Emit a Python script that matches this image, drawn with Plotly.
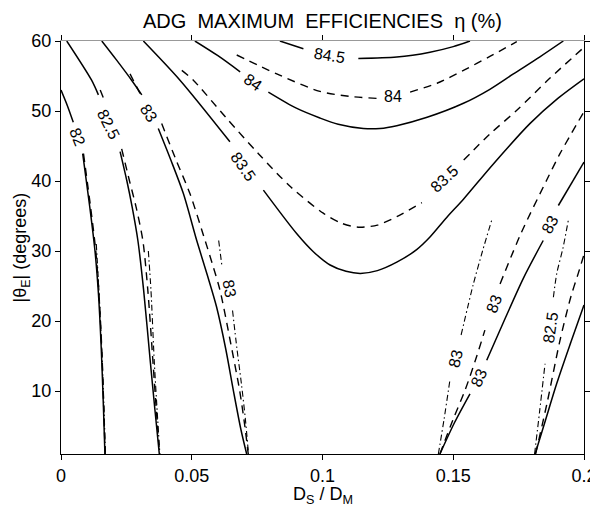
import plotly.graph_objects as go

# ---------------- data ----------------
# solid family
s82_x = [0, 0.0024, 0.0047, None, 0.0083, 0.0110, 0.0130, 0.0143, 0.0154, 0.0162, 0.0168]
s82_y = [53.0, 50.8, 48.4, None, 43.9, 36.3, 30, 24, 16, 8, 1]
s825_x = [0.0022, 0.0117, 0.0143, None, 0.0226, 0.0252, 0.0272, 0.0294, 0.0316, 0.0342, 0.0360, 0.0376]
s825_y = [60, 54.4, 52.3, None, 44.2, 40, 36.3, 31.5, 24.4, 14, 7, 1]
s83_x = [0.0156, 0.0212, 0.0270, 0.0309, None, 0.0372, 0.0420, 0.0468, 0.0519, 0.0560, 0.0595, 0.0630, 0.0659, 0.0688, 0.0710]
s83_y = [60, 57.3, 54.4, 52.3, None, 47.5, 43, 38.2, 31.5, 26.5, 22.0, 16, 10.1, 4.5, 1]
s835_x = [0.0315, 0.0455, 0.0646, None, 0.0774, 0.0901, 0.0965, 0.1029, 0.1090, 0.1145, 0.1210, 0.1284,
          0.1360, 0.1411, 0.1475, 0.1539, 0.1650, 0.1793, 0.1900, 0.2000]
s835_y = [60, 54.4, 45.6, None, 38.7, 32.5, 29.9, 28.0, 27.1, 26.8, 27.2, 28.4,
          30.2, 32.0, 34.8, 37.4, 42.3, 48.2, 51.8, 54.6]
s84_x = [0.0512, 0.0600, 0.0685, None, 0.0793, 0.0900, 0.0990, 0.1060, 0.1156, 0.1220, 0.1284,
         0.1400, 0.1539, 0.1640, 0.1730, 0.1830, 0.1921]
s84_y = [60, 57.9, 55.6, None, 52.7, 50.4, 49.0, 48.1, 47.5, 47.5, 47.9,
         49.1, 51.1, 53.1, 55.3, 57.7, 60]
s845_x = [0.0837, 0.0927, None, 0.1137, 0.1284, 0.1411, 0.1500, 0.1564]
s845_y = [60, 58.9, None, 57.5, 57.7, 58.4, 59.2, 60]
s83r_x = [0.1449, 0.1505, 0.1564, None, 0.1628, 0.1700, 0.1768, 0.1844, None, 0.1902, 0.2000]
s83r_y = [1, 5.5, 9.6, None, 14.4, 20.5, 26.1, 31.5, None, 36.5, 42.7]
s825r_x = [0.1813, 0.1850, 0.1896, 0.1950, 0.2000]
s825r_y = [1, 5.5, 11.1, 17, 22.3]

# dashed family
d82_x = [0.0086, 0.0113, 0.0133, 0.0145, 0.0156, 0.0163, 0.0169]
d82_y = [43.9, 36.3, 30, 24, 16, 8, 1]
d825_x = [0.0150, 0.0163, None, 0.0232, 0.0262, 0.0287, 0.0313, 0.0332, 0.0352, 0.0365, 0.0377]
d825_y = [53.0, 51.8, None, 44.6, 40, 36.3, 31.5, 24.4, 14, 7, 1]
d83_x = [0.0264, 0.0309, None, 0.0385, 0.0440, 0.0493, 0.0551, 0.0580, 0.0608, 0.0648, 0.0683, 0.0703, 0.0716]
d83_y = [55.3, 52.0, None, 48.2, 43, 38.2, 31.5, 28.0, 24.4, 17, 10.1, 5, 1]
d835_x = [0.0462, 0.0506, 0.0630, 0.0755, 0.0880, 0.1003, 0.1070, 0.1137, 0.1210, 0.1284, 0.1380, None,
          0.1540, 0.1640, 0.1743, 0.1870, 0.2000]
d835_y = [55.8, 54.4, 49.1, 43.9, 39.1, 35.4, 34.0, 33.4, 33.7, 34.9, 36.9, None,
          43.0, 46.7, 50.1, 54.7, 59.1]
d84_x = [0.0672, 0.0825, 0.0990, 0.1100, 0.1207, None, 0.1335, 0.1440, 0.1539, 0.1640, 0.1743]
d84_y = [58.0, 55.3, 52.8, 52.1, 51.8, None, 52.7, 54.0, 55.8, 57.8, 59.9]
d83r_x = [0.1449, 0.1500, 0.1545, 0.1590, 0.1621, None, 0.1679, 0.1760, 0.1857, 0.1908, 0.2000]
d83r_y = [1, 6, 10.1, 15, 18.7, None, 25.3, 32.6, 40.1, 43.9, 49.9]
d825r_x = [0.1815, 0.1860, 0.1908, 0.1950, 0.1978, 0.2000]
d825r_y = [1, 8.5, 17.2, 23.5, 26.8, 29.5]

# dash-dot family
dd82_x = [0.0135, 0.0147, 0.0157, 0.0164, 0.0170]
dd82_y = [31.0, 23, 15, 8, 1]
dd825_x = [0.0334, 0.0344, 0.0357, 0.0368, 0.0378]
dd825_y = [30.0, 24.4, 14, 7, 1]
dd83_x = [0.0603, 0.0615, None, 0.0656, 0.0673, 0.0690, 0.0705, 0.0717]
dd83_y = [31.5, 28.0, None, 21.5, 16, 11, 6, 1]
dd83r_x = [0.1443, 0.1465, 0.1487, None, 0.1530, 0.1577, 0.1612, 0.1647]
dd83r_y = [1, 6, 11.5, None, 18, 25.3, 30, 34.4]
dd825r_x = [0.1811, 0.1830, 0.1851, None, 0.1883, 0.1896, 0.1920, 0.1940]
dd825r_y = [1, 7, 13.9, None, 23.4, 26.8, 30.5, 34.4]

# contour labels
label_text = ["82", "82.5", "83", "83.5", "84", "84.5", "84", "83.5", "83", "83", "83", "83", "83", "82.5"]
label_x = [0.0063, 0.0182, 0.0337, 0.0697, 0.0735, 0.1026, 0.1271, 0.1468, 0.0643, 0.1510, 0.1599, 0.1657, 0.1870, 0.1870]
label_y = [46.2, 48.1, 49.7, 42.1, 54.1, 58.0, 52.1, 40.3, 24.6, 14.6, 11.9, 22.5, 33.8, 19.0]
label_angle = [68, 63, 57, 55, 35, 9, 0, -43, 80, -77, -66, -69, -61, -82]

x_ticks = [0, 0.05, 0.1, 0.15, 0.2]
x_ticktext = ["0", "0.05", "0.1", "0.15", "0.2"]
y_ticks = [10, 20, 30, 40, 50, 60]

# ---------------- figure ----------------
FONT = "Liberation Sans, Arial, sans-serif"
fig = go.Figure()

solid = [(s82_x, s82_y), (s825_x, s825_y), (s83_x, s83_y), (s835_x, s835_y), (s84_x, s84_y),
         (s845_x, s845_y), (s83r_x, s83r_y), (s825r_x, s825r_y)]
dashed = [(d82_x, d82_y), (d825_x, d825_y), (d83_x, d83_y), (d835_x, d835_y), (d84_x, d84_y),
          (d83r_x, d83r_y), (d825r_x, d825r_y)]
dashdot = [(dd82_x, dd82_y), (dd825_x, dd825_y), (dd83_x, dd83_y), (dd83r_x, dd83r_y), (dd825r_x, dd825r_y)]

for xs, ys in solid:
    fig.add_trace(go.Scatter(x=xs, y=ys, mode="lines", connectgaps=False,
                             line=dict(color="black", width=1.5, shape="spline", smoothing=0.8),
                             hoverinfo="skip", showlegend=False))
for xs, ys in dashed:
    fig.add_trace(go.Scatter(x=xs, y=ys, mode="lines", connectgaps=False,
                             line=dict(color="black", width=1.4, dash="8px,6px", shape="spline", smoothing=0.8),
                             hoverinfo="skip", showlegend=False))
for xs, ys in dashdot:
    fig.add_trace(go.Scatter(x=xs, y=ys, mode="lines", connectgaps=False,
                             line=dict(color="black", width=1.1, dash="6px,3px,1.5px,3px", shape="spline", smoothing=0.8),
                             hoverinfo="skip", showlegend=False))

# invisible trace for top axis
fig.add_trace(go.Scatter(x=[0, 0.2], y=[1, 1], xaxis="x2", mode="lines",
                         line=dict(width=0), hoverinfo="skip", showlegend=False))

annotations = []
for t, lx, ly, ang in zip(label_text, label_x, label_y, label_angle):
    annotations.append(dict(x=lx, y=ly, xref="x", yref="y", text=t, showarrow=False,
                            textangle=ang, xanchor="center", yanchor="middle",
                            font=dict(family=FONT, size=16, color="black")))

NB = "\u00a0"
title_text = "ADG" + NB * 2 + "MAXIMUM" + NB * 2 + "EFFICIENCIES" + NB * 2 + "\u03b7 (%)"
annotations.append(dict(x=0.5, y=1.0475, xref="paper", yref="paper", showarrow=False,
                        text=title_text, xanchor="center", yanchor="middle",
                        font=dict(family=FONT, size=20, color="black")))
annotations.append(dict(x=0.5, y=-0.1, xref="paper", yref="paper", showarrow=False,
                        text="D<sub>S</sub> / D<sub>M</sub>",
                        xanchor="center", yanchor="middle",
                        font=dict(family=FONT, size=18, color="black")))
annotations.append(dict(x=-0.0746, y=0.5, xref="paper", yref="paper", showarrow=False,
                        text="|\u03b8<sub>E</sub>| (degrees)", textangle=-90,
                        xanchor="center", yanchor="middle",
                        font=dict(family=FONT, size=18, color="black")))

# the page body adds an 8px margin, so the figure is 8px smaller and margins shifted
fig.update_layout(
    width=590, height=505,
    margin=dict(l=53, r=14, t=33, b=59, autoexpand=False),
    paper_bgcolor="white", plot_bgcolor="white",
    font=dict(family=FONT, size=18, color="black"),
    annotations=annotations,
    xaxis=dict(range=[0, 0.2], tickvals=x_ticks, ticktext=x_ticktext, automargin=False,
               showline=True, linecolor="black", linewidth=1, mirror=False,
               ticks="outside", ticklen=5, tickcolor="black",
               showgrid=False, zeroline=False,
               tickfont=dict(family=FONT, size=18, color="black")),
    xaxis2=dict(range=[0, 0.2], overlaying="x", side="top", tickvals=x_ticks, automargin=False,
                showticklabels=False, showline=True, linecolor="#999999", linewidth=1,
                ticks="outside", ticklen=5, tickcolor="black",
                showgrid=False, zeroline=False),
    yaxis=dict(range=[1, 60], tickvals=y_ticks, automargin=False,
               showline=True, linecolor="black", linewidth=1, mirror="ticks",
               ticks="outside", ticklen=5, tickcolor="black",
               showgrid=False, zeroline=False,
               tickfont=dict(family=FONT, size=18, color="black")),
)

fig.write_html("out.html")
